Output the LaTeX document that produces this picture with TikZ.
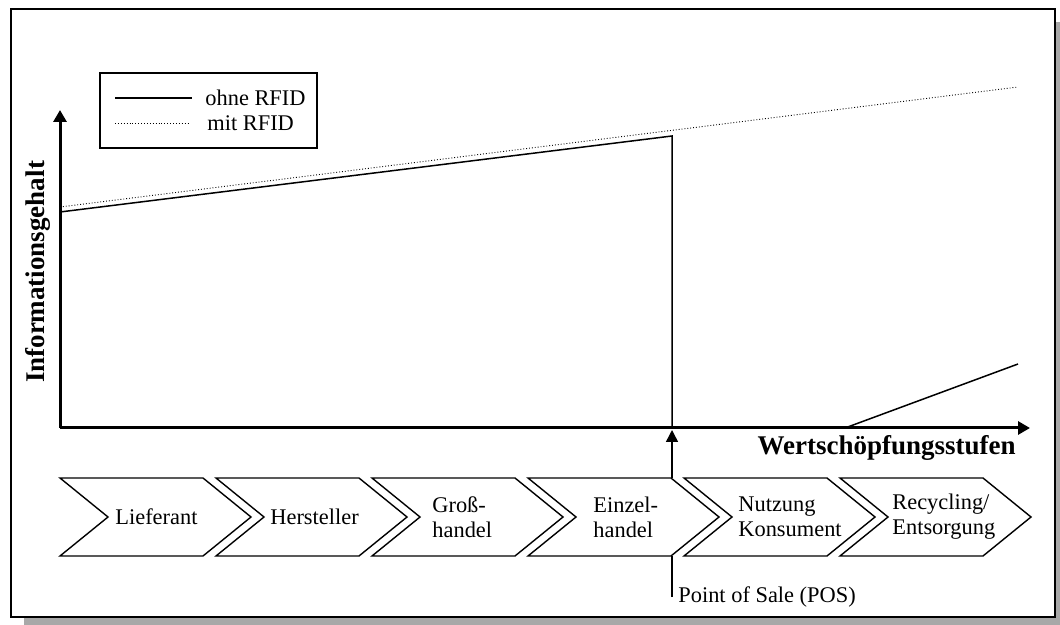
\documentclass[tikz,border=0pt]{standalone}
\usepackage{fontspec}
\setmainfont{Liberation Serif}
\usetikzlibrary{arrows.meta,positioning,calc}
\definecolor{ShadowGray}{HTML}{A8A8A8}

\tikzset{
  axis/.style={line width=1.5pt,-{Triangle[length=6pt,width=6.5pt]}},
  curve/.style={line width=0.75pt},
  rfidcurve/.style={densely dotted,line width=0.45pt},
  stagebox/.style={draw,line width=0.7pt,fill=white},
  stagetext/.style={anchor=west,inner sep=0pt,align=left,font=\fontsize{11.2}{12.5}\selectfont},
  plaintext/.style={inner sep=0pt,font=\fontsize{11.2}{13}\selectfont},
  axislabel/.style={inner sep=0pt,font=\fontsize{13.5}{16}\selectfont\bfseries},
}

\begin{document}
\begin{tikzpicture}[x=0.5pt,y=-0.5pt]
  \useasboundingbox (0,0) rectangle (1060,625);
  % frame with shadow
  \fill[ShadowGray] (24,22) rectangle (1060,625);
  \draw[line width=1pt,fill=white] (11,9) rectangle (1055,617);

  % axes
  \coordinate (origin) at (60,428);
  \coordinate (ytip) at (60,110);
  \coordinate (xtip) at (1030,428);
  \draw[axis] (origin) -- (ytip);
  \draw[axis] (origin) -- (xtip);
  \node[axislabel,rotate=90] (ylabel) at (38,272) {Informationsgehalt};
  \node[axislabel,anchor=east] (xlabel) at (1016,448) {Wertschöpfungsstufen};

  % information curves
  \draw[rfidcurve] (60,207) -- (1018,87);
  \draw[curve] (60,212) -- (672,136) -- (672,428);
  \draw[curve] (845,428) -- (1018,364);

  % legend
  \draw[line width=0.7pt] (100,73) rectangle (317,148);
  \draw[curve] (115,98) -- (192,98);
  \draw[rfidcurve] (115,123) -- (190,123);
  \node[plaintext,anchor=west] (ohne) at (205,98) {ohne RFID};
  \node[plaintext,anchor=west] (mit) at (207,123) {mit RFID};

  % value chain stages
  \foreach \i/\dx/\txt in {0/55/Lieferant,1/54/Hersteller,2/60/{Groß-\\handel},
                           3/65/{Einzel-\\handel},4/54/{Nutzung\\Konsument},5/52/{Recycling/\\Entsorgung}} {
    \pgfmathsetmacro\l{60+156*\i}
    \draw[stagebox] (\l,478) -- (\l+143,478) -- (\l+191,517) -- (\l+143,556)
      -- (\l,556) -- (\l+48,517) -- cycle;
    \node[stagetext] (stage\i) at (\l+\dx,517) {\txt};
  }

  % point of sale
  \coordinate (posfoot) at (672,597);
  \coordinate (posbottom) at (672,556);
  \coordinate (postop) at (672,478);
  \coordinate (posaxis) at (672,430);
  \draw[curve] (posfoot) -- (posbottom);
  \draw[curve,-{Triangle[length=6pt,width=6pt]}] (postop) -- (posaxis);
  \node[plaintext,anchor=west] (pos) at ([xshift=3]posfoot) {Point of Sale (POS)};
\end{tikzpicture}
\end{document}
